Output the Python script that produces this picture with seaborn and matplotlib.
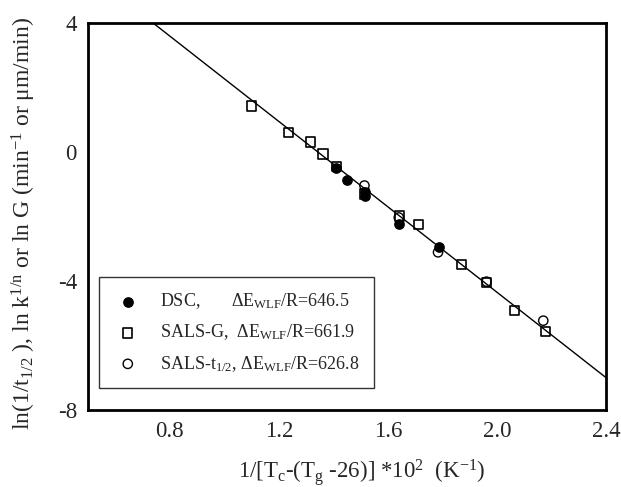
import numpy as np
import pandas as pd
import matplotlib
matplotlib.use("Agg")
import matplotlib.pyplot as plt
import seaborn as sns

# ---- data ----
dsc_x = [1.410, 1.451, 1.515, 1.515, 1.642, 1.788]
dsc_y = [-0.50, -0.86, -1.24, -1.35, -2.23, -2.96]

salsg_x = [1.101, 1.235, 1.316, 1.362, 1.411, 1.515, 1.642, 1.712, 1.871, 1.963, 2.065, 2.178]
salsg_y = [1.43, 0.61, 0.31, -0.06, -0.45, -1.30, -1.98, -2.24, -3.49, -4.05, -4.91, -5.57]

salst_x = [1.514, 1.640, 1.784, 1.962, 2.170]
salst_y = [-1.04, -2.03, -3.11, -4.02, -5.23]

fit_intercept = 8.89
fit_slope = -6.619

series_labels = [
    r"DSC,       $\Delta$E$_{\mathrm{WLF}}$/R=646.5",
    r"SALS-G,  $\Delta$E$_{\mathrm{WLF}}$/R=661.9",
    r"SALS-t$_{1/2}$, $\Delta$E$_{\mathrm{WLF}}$/R=626.8",
]
xticks = [0.8, 1.2, 1.6, 2.0, 2.4]
yticks = [-8, -4, 0, 4]

sns.set_style("white")
plt.rcParams["font.family"] = ["Liberation Serif", "DejaVu Serif"]
plt.rcParams["mathtext.fontset"] = "custom"
plt.rcParams["mathtext.rm"] = "Liberation Serif"
plt.rcParams["mathtext.it"] = "Liberation Serif:italic"
plt.rcParams["mathtext.default"] = "regular"

fig = plt.figure(figsize=(6.21, 4.87), dpi=100)
ax = fig.add_axes([0.1417, 0.1581, 0.9758 - 0.1417, 0.9528 - 0.1581])

df_dsc = pd.DataFrame({"x": dsc_x, "y": dsc_y})
df_g = pd.DataFrame({"x": salsg_x, "y": salsg_y})
df_t = pd.DataFrame({"x": salst_x, "y": salst_y})

sns.scatterplot(data=df_dsc, x="x", y="y", ax=ax, marker="o", s=45,
                color="black", edgecolor="black", linewidth=1, label=series_labels[0], zorder=3)
sns.scatterplot(data=df_g, x="x", y="y", ax=ax, marker="s", s=45,
                facecolor="none", edgecolor="black", linewidth=1.2, label=series_labels[1], zorder=3)
sns.scatterplot(data=df_t, x="x", y="y", ax=ax, marker="o", s=45,
                facecolor="none", edgecolor="black", linewidth=1.0, label=series_labels[2], zorder=3)

line_x = np.array([0.5, 2.4])
df_line = pd.DataFrame({"x": line_x, "y": fit_intercept + fit_slope * line_x})
sns.lineplot(data=df_line, x="x", y="y", ax=ax, color="black", linewidth=1.0, zorder=4, legend=False)

ax.set_xlim(0.5, 2.4)
ax.set_ylim(-8, 4)
ax.set_xticks(xticks)
ax.set_xticklabels([f"{v:.1f}" for v in xticks])
ax.set_yticks(yticks)
ax.set_yticklabels([str(v) for v in yticks])
ax.tick_params(axis="both", direction="in", length=5, width=1.5, labelsize=16.5,
               top=False, right=False, pad=8)

for sp in ax.spines.values():
    sp.set_linewidth(2)
    sp.set_color("black")

ax.set_xlabel(r"1/[T$_c$-(T$_g$ -26)] *10$^2$  (K$^{-1}$)", fontsize=16.5)
ax.set_ylabel(r"ln(1/t$_{1/2}$ ), ln k$^{1/n}$ or ln G (min$^{-1}$ or $\mu$m/min)", fontsize=17)
ax.xaxis.set_label_coords(0.529, -0.122)
ax.yaxis.set_label_coords(-0.097, 0.483)

leg = ax.legend(loc="lower left", bbox_to_anchor=(0.021, 0.057), fontsize=13.0,
                frameon=True, fancybox=False, edgecolor="black", handletextpad=1.0,
                borderpad=0.8, labelspacing=0.62, borderaxespad=0, handlelength=1.6)
leg.get_frame().set_linewidth(1.0)

fig.savefig("out.png", dpi=100)
